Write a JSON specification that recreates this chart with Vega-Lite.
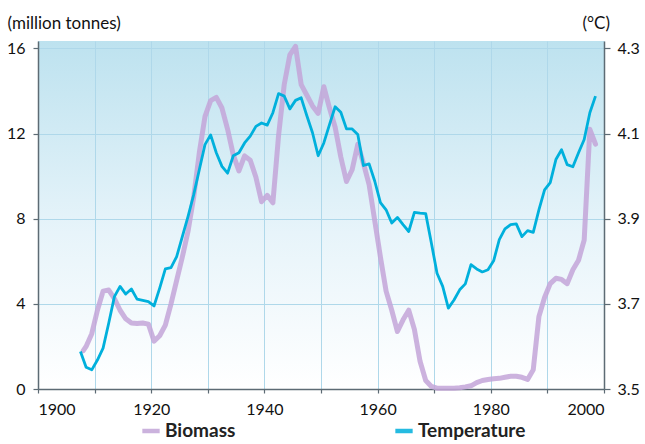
{
  "$schema": "https://vega.github.io/schema/vega-lite/v6.json",
  "width": 566,
  "height": 348,
  "autosize": {"type": "none"},
  "padding": {"left": 38, "top": 41, "right": 41, "bottom": 55},
  "background": "white",
  "config": {
    "view": {"stroke": null, "fill": {"gradient": "linear", "x1": 0, "y1": 0, "x2": 0, "y2": 1, "stops": [{"offset": 0, "color": "#bde2ef"}, {"offset": 0.55, "color": "#e7f4fa"}, {"offset": 1, "color": "#ffffff"}]}},
    "font": "Lato",
    "axis": {"labelFont": "Lato", "labelFontSize": 16, "labelColor": "#111111", "titleFont": "Lato", "titleFontSize": 17, "titleFontWeight": "normal", "titleColor": "#111111", "domainColor": "#5d6b74", "tickColor": "#5d6b74", "domainWidth": 1.5, "tickWidth": 1.2, "gridColor": "#afd8ea", "gridWidth": 1}
  },
  "datasets": {
    "biomass": [
      {"year": 1908.0, "biomass": 1.8}, {"year": 1908.5, "biomass": 2.0}, {"year": 1909.5, "biomass": 2.6}, {"year": 1910.5, "biomass": 3.7},
      {"year": 1911.5, "biomass": 4.6}, {"year": 1912.5, "biomass": 4.65}, {"year": 1913.5, "biomass": 4.25}, {"year": 1914.5, "biomass": 3.7},
      {"year": 1915.5, "biomass": 3.3}, {"year": 1916.5, "biomass": 3.1}, {"year": 1917.5, "biomass": 3.08}, {"year": 1918.5, "biomass": 3.1},
      {"year": 1919.5, "biomass": 3.05}, {"year": 1920.5, "biomass": 2.25}, {"year": 1921.5, "biomass": 2.5}, {"year": 1922.5, "biomass": 3.0},
      {"year": 1923.5, "biomass": 4.0}, {"year": 1924.5, "biomass": 5.1}, {"year": 1925.5, "biomass": 6.2}, {"year": 1926.5, "biomass": 7.4},
      {"year": 1927.5, "biomass": 9.0}, {"year": 1928.5, "biomass": 11.1}, {"year": 1929.5, "biomass": 12.8}, {"year": 1930.5, "biomass": 13.55},
      {"year": 1931.5, "biomass": 13.7}, {"year": 1932.5, "biomass": 13.2}, {"year": 1933.5, "biomass": 12.2}, {"year": 1934.5, "biomass": 11.0},
      {"year": 1935.5, "biomass": 10.25}, {"year": 1936.5, "biomass": 10.95}, {"year": 1937.5, "biomass": 10.75}, {"year": 1938.5, "biomass": 9.95},
      {"year": 1939.5, "biomass": 8.8}, {"year": 1940.5, "biomass": 9.1}, {"year": 1941.5, "biomass": 8.75}, {"year": 1942.5, "biomass": 11.9},
      {"year": 1943.5, "biomass": 14.3}, {"year": 1944.5, "biomass": 15.7}, {"year": 1945.5, "biomass": 16.1}, {"year": 1946.5, "biomass": 14.3},
      {"year": 1947.5, "biomass": 13.8}, {"year": 1948.5, "biomass": 13.3}, {"year": 1949.5, "biomass": 12.95}, {"year": 1950.5, "biomass": 14.2},
      {"year": 1951.5, "biomass": 13.2}, {"year": 1952.5, "biomass": 12.3}, {"year": 1953.5, "biomass": 10.9}, {"year": 1954.5, "biomass": 9.75},
      {"year": 1955.5, "biomass": 10.3}, {"year": 1956.5, "biomass": 11.5}, {"year": 1957.5, "biomass": 10.6}, {"year": 1958.5, "biomass": 9.6},
      {"year": 1959.5, "biomass": 7.9}, {"year": 1960.5, "biomass": 6.2}, {"year": 1961.5, "biomass": 4.6}, {"year": 1962.5, "biomass": 3.7},
      {"year": 1963.5, "biomass": 2.7}, {"year": 1964.5, "biomass": 3.25}, {"year": 1965.5, "biomass": 3.7}, {"year": 1966.5, "biomass": 2.8},
      {"year": 1967.5, "biomass": 1.3}, {"year": 1968.5, "biomass": 0.4}, {"year": 1969.5, "biomass": 0.12}, {"year": 1970.5, "biomass": 0.04},
      {"year": 1971.5, "biomass": 0.03}, {"year": 1972.5, "biomass": 0.03}, {"year": 1973.5, "biomass": 0.04}, {"year": 1974.5, "biomass": 0.06},
      {"year": 1975.5, "biomass": 0.1}, {"year": 1976.5, "biomass": 0.15}, {"year": 1977.5, "biomass": 0.3}, {"year": 1978.5, "biomass": 0.4},
      {"year": 1979.5, "biomass": 0.45}, {"year": 1980.5, "biomass": 0.48}, {"year": 1981.5, "biomass": 0.5}, {"year": 1982.5, "biomass": 0.55},
      {"year": 1983.5, "biomass": 0.6}, {"year": 1984.5, "biomass": 0.6}, {"year": 1985.5, "biomass": 0.55}, {"year": 1986.5, "biomass": 0.45},
      {"year": 1987.5, "biomass": 0.9}, {"year": 1988.5, "biomass": 3.4}, {"year": 1989.5, "biomass": 4.3}, {"year": 1990.5, "biomass": 4.95},
      {"year": 1991.5, "biomass": 5.2}, {"year": 1992.5, "biomass": 5.15}, {"year": 1993.5, "biomass": 4.95}, {"year": 1994.5, "biomass": 5.6},
      {"year": 1995.5, "biomass": 6.05}, {"year": 1996.5, "biomass": 7.0}, {"year": 1997.5, "biomass": 12.2}, {"year": 1998.5, "biomass": 11.5}
    ],
    "temperature": [
      {"year": 1907.5, "temp": 3.588}, {"year": 1908.5, "temp": 3.551}, {"year": 1909.5, "temp": 3.545}, {"year": 1910.5, "temp": 3.568},
      {"year": 1911.5, "temp": 3.596}, {"year": 1912.5, "temp": 3.655}, {"year": 1913.5, "temp": 3.717}, {"year": 1914.5, "temp": 3.741},
      {"year": 1915.5, "temp": 3.723}, {"year": 1916.5, "temp": 3.735}, {"year": 1917.5, "temp": 3.711}, {"year": 1918.5, "temp": 3.708},
      {"year": 1919.5, "temp": 3.705}, {"year": 1920.5, "temp": 3.695}, {"year": 1921.5, "temp": 3.737}, {"year": 1922.5, "temp": 3.782},
      {"year": 1923.5, "temp": 3.785}, {"year": 1924.5, "temp": 3.811}, {"year": 1925.5, "temp": 3.858}, {"year": 1926.5, "temp": 3.905},
      {"year": 1927.5, "temp": 3.956}, {"year": 1928.5, "temp": 4.015}, {"year": 1929.5, "temp": 4.074}, {"year": 1930.5, "temp": 4.097},
      {"year": 1931.5, "temp": 4.055}, {"year": 1932.5, "temp": 4.023}, {"year": 1933.5, "temp": 4.007}, {"year": 1934.5, "temp": 4.048},
      {"year": 1935.5, "temp": 4.055}, {"year": 1936.5, "temp": 4.078}, {"year": 1937.5, "temp": 4.094}, {"year": 1938.5, "temp": 4.117},
      {"year": 1939.5, "temp": 4.125}, {"year": 1940.5, "temp": 4.12}, {"year": 1941.5, "temp": 4.149}, {"year": 1942.5, "temp": 4.194},
      {"year": 1943.5, "temp": 4.188}, {"year": 1944.5, "temp": 4.158}, {"year": 1945.5, "temp": 4.178}, {"year": 1946.5, "temp": 4.184},
      {"year": 1947.5, "temp": 4.142}, {"year": 1948.5, "temp": 4.102}, {"year": 1949.5, "temp": 4.048}, {"year": 1950.5, "temp": 4.078},
      {"year": 1951.5, "temp": 4.121}, {"year": 1952.5, "temp": 4.163}, {"year": 1953.5, "temp": 4.15}, {"year": 1954.5, "temp": 4.111},
      {"year": 1955.5, "temp": 4.111}, {"year": 1956.5, "temp": 4.098}, {"year": 1957.5, "temp": 4.025}, {"year": 1958.5, "temp": 4.029},
      {"year": 1959.5, "temp": 3.988}, {"year": 1960.5, "temp": 3.938}, {"year": 1961.5, "temp": 3.921}, {"year": 1962.5, "temp": 3.89},
      {"year": 1963.5, "temp": 3.903}, {"year": 1964.5, "temp": 3.886}, {"year": 1965.5, "temp": 3.87}, {"year": 1966.5, "temp": 3.915},
      {"year": 1967.5, "temp": 3.913}, {"year": 1968.5, "temp": 3.912}, {"year": 1969.5, "temp": 3.843}, {"year": 1970.5, "temp": 3.772},
      {"year": 1971.5, "temp": 3.741}, {"year": 1972.5, "temp": 3.69}, {"year": 1973.5, "temp": 3.709}, {"year": 1974.5, "temp": 3.733},
      {"year": 1975.5, "temp": 3.747}, {"year": 1976.5, "temp": 3.792}, {"year": 1977.5, "temp": 3.782}, {"year": 1978.5, "temp": 3.775},
      {"year": 1979.5, "temp": 3.78}, {"year": 1980.5, "temp": 3.801}, {"year": 1981.5, "temp": 3.851}, {"year": 1982.5, "temp": 3.876},
      {"year": 1983.5, "temp": 3.886}, {"year": 1984.5, "temp": 3.888}, {"year": 1985.5, "temp": 3.858}, {"year": 1986.5, "temp": 3.872},
      {"year": 1987.5, "temp": 3.868}, {"year": 1988.5, "temp": 3.921}, {"year": 1989.5, "temp": 3.968}, {"year": 1990.5, "temp": 3.985},
      {"year": 1991.5, "temp": 4.039}, {"year": 1992.5, "temp": 4.062}, {"year": 1993.5, "temp": 4.027}, {"year": 1994.5, "temp": 4.022},
      {"year": 1995.5, "temp": 4.055}, {"year": 1996.5, "temp": 4.086}, {"year": 1997.5, "temp": 4.149}, {"year": 1998.5, "temp": 4.188}
    ]
  },
  "layer": [
    {
      "data": {"name": "biomass"},
      "mark": {"type": "line", "strokeWidth": 5, "opacity": 0.85, "strokeJoin": "round", "strokeCap": "round"},
      "encoding": {
        "x": {"field": "year", "type": "quantitative", "scale": {"domain": [1900, 2000], "nice": false},
          "axis": {"title": null, "values": [1900, 1910, 1920, 1930, 1940, 1950, 1960, 1970, 1980, 1990, 2000], "format": "d", "labelExpr": "datum.value % 20 === 0 ? datum.label : ''", "grid": true, "tickSize": 4, "labelPadding": 8}},
        "y": {"field": "biomass", "type": "quantitative", "scale": {"domain": [0, 16.35], "nice": false, "zero": false},
          "axis": {"orient": "left", "values": [0, 4, 8, 12, 16], "grid": true, "tickSize": 5, "labelPadding": 8, "title": "(million tonnes)", "titleAngle": 0, "titleAlign": "left", "titleBaseline": "alphabetic", "titleX": -31, "titleY": -13}},
        "color": {"datum": "Biomass", "type": "nominal", "scale": {"domain": ["Biomass", "Temperature"], "range": ["#c3a5d8", "#00b0dc"]},
          "legend": {"orient": "none", "legendX": 102, "legendY": 379, "direction": "horizontal", "title": null, "labelFont": "Lato", "labelFontSize": 19, "labelFontWeight": "bold", "labelColor": "#222222", "symbolType": "stroke", "symbolStrokeWidth": 4.5, "symbolSize": 300, "columnPadding": 150, "labelOffset": 3}}
      }
    },
    {
      "data": {"name": "temperature"},
      "mark": {"type": "line", "strokeWidth": 2.8, "strokeJoin": "round"},
      "encoding": {
        "x": {"field": "year", "type": "quantitative"},
        "y": {"field": "temp", "type": "quantitative", "scale": {"domain": [3.5, 4.3175], "nice": false, "zero": false},
          "axis": {"orient": "right", "values": [3.5, 3.7, 3.9, 4.1, 4.3], "format": ".1f", "grid": false, "tickSize": 6, "labelPadding": 7, "title": "(°C)", "titleAngle": 0, "titleAlign": "left", "titleBaseline": "alphabetic", "titleX": -22, "titleY": -13}},
        "color": {"datum": "Temperature", "type": "nominal"}
      }
    }
  ],
  "resolve": {"scale": {"y": "independent"}}
}
